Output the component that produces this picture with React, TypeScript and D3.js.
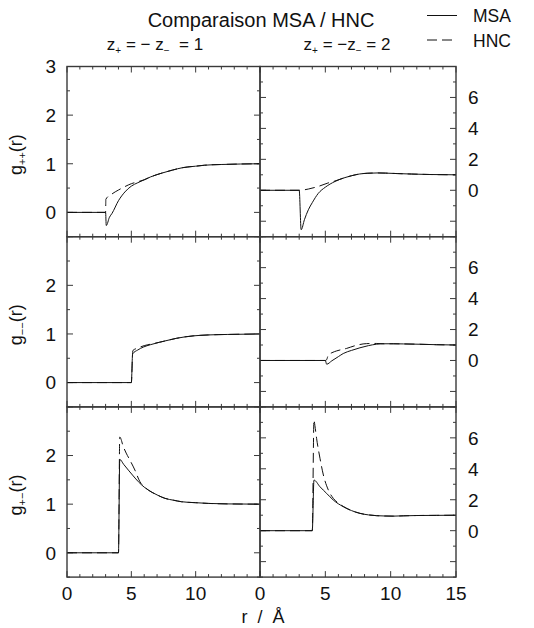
import React from 'react';
import * as d3 from 'd3';

type Pt = [number, number];

// ---- data: g(r) curves ----
// column 1 : z+ = -z- = 1 ; column 2 : z+ = -z- = 2
const msaPP1: Pt[] = [[0,0],[3,0],[3.05,-0.27],[3.3,-0.1],[3.5,-0.02],[4,0.24],[4.5,0.42],[5,0.54],[5.5,0.61],[6,0.67],[6.5,0.73],[7.4,0.81],[8.2,0.87],[9,0.92],[10,0.95],[10.7,0.97],[12,0.985],[13.5,0.995],[15,1.0]];
const hncPP1: Pt[] = [[0,0],[3,0],[3.02,0.27],[3.5,0.38],[4,0.46],[4.5,0.53],[5,0.59],[5.5,0.63],[6,0.67],[6.5,0.73],[7.4,0.81],[8.2,0.87],[9,0.92],[10,0.95],[10.7,0.97],[12,0.985],[13.5,0.995],[15,1.0]];

const msaPP2: Pt[] = [[0,0],[3,0],[3.15,-2.55],[3.4,-1.9],[3.7,-1.26],[4,-0.8],[4.46,-0.2],[5,0.2],[5.74,0.57],[6.5,0.82],[7,0.94],[7.6,1.05],[8.2,1.1],[9,1.12],[9.6,1.11],[10.5,1.08],[11.6,1.05],[13,1.02],[15,1.0]];
const hncPP2: Pt[] = [[0,0],[3,0],[3.7,0.08],[4.46,0.25],[5.2,0.47],[5.74,0.6],[6.5,0.82],[7,0.94],[7.6,1.05],[8.2,1.1],[9,1.12],[9.6,1.11],[10.5,1.08],[11.6,1.05],[13,1.02],[15,1.0]];

const msaMM1: Pt[] = [[0,0],[5,0],[5.1,0.59],[5.5,0.67],[5.93,0.73],[6.5,0.78],[7.2,0.83],[8,0.88],[8.5,0.91],[9.8,0.96],[11,0.98],[12.5,0.99],[15,1.0]];
const hncMM1: Pt[] = [[0,0],[5,0],[5.12,0.66],[5.5,0.71],[6,0.76],[6.5,0.79],[7.2,0.83],[8,0.88],[8.5,0.91],[9.8,0.96],[11,0.98],[12.5,0.99],[15,1.0]];

const msaMM2: Pt[] = [[0,0],[5,0],[5.1,-0.24],[5.5,-0.02],[6,0.25],[6.37,0.45],[7,0.65],[7.65,0.82],[8.3,0.96],[8.9,1.05],[9.5,1.08],[10.2,1.08],[11,1.07],[12.2,1.05],[13.5,1.02],[15,1.0]];
const hncMM2: Pt[] = [[0,0],[5,0],[5.1,0.05],[5.23,0.36],[5.5,0.5],[5.87,0.62],[6.63,0.78],[7.29,0.96],[8.16,1.09],[8.9,1.1],[9.5,1.08],[10.2,1.08],[11,1.07],[12.2,1.05],[13.5,1.02],[15,1.0]];

const msaPM1: Pt[] = [[0,0],[4,0],[4.1,1.92],[4.4,1.82],[4.77,1.7],[5.15,1.58],[5.55,1.46],[6,1.35],[6.32,1.29],[7,1.19],[7.61,1.12],[8.3,1.08],[8.9,1.05],[10,1.03],[11,1.015],[12.5,1.005],[15,1.0]];
const hncPM1: Pt[] = [[0,0],[4,0],[4.1,2.38],[4.38,2.18],[4.6,2.05],[4.9,1.9],[5.28,1.7],[5.67,1.46],[6,1.36],[6.32,1.29],[7,1.19],[7.61,1.12],[8.3,1.08],[8.9,1.05],[10,1.03],[11,1.015],[12.5,1.005],[15,1.0]];

const msaPM2: Pt[] = [[0,0],[4,0],[4.13,3.27],[4.59,2.84],[5.1,2.41],[5.61,1.98],[6.37,1.55],[7,1.3],[7.65,1.12],[8.3,1.02],[8.93,0.97],[9.5,0.95],[10.2,0.94],[11,0.96],[12,0.98],[13.5,0.99],[15,1.0]];
const hncPM2: Pt[] = [[0,0],[4,0],[4.13,7.16],[4.2,6.8],[4.33,5.97],[4.59,4.68],[4.85,3.6],[5.23,2.63],[5.61,2.09],[6,1.78],[6.37,1.57],[7,1.3],[7.65,1.12],[8.3,1.02],[8.93,0.97],[9.5,0.95],[10.2,0.94],[11,0.96],[12,0.98],[13.5,0.99],[15,1.0]];

// tick labels
const xTickLabelsLeft = [0, 5, 10];
const xTickLabelsRight = [0, 5, 10, 15];
const yTickLabelsLeftTop = [0, 1, 2, 3];
const yTickLabelsLeft = [0, 1, 2];
const yTickLabelsRight = [0, 2, 4, 6];
const rowLabels = ['++', '−−', '+−'];
const legendNames = ['MSA', 'HNC'];

// ---- layout ----
const W = 534, H = 628;
const colX: [number, number][] = [[67, 260], [260, 456]];
const rowTop = 66.5, rowH = 170.2;
const FONT = "'Liberation Sans', Arial, Helvetica, sans-serif";
const INK = '#111';
const FRAME = '#3a3a3a';

const panels = [
  { row: 0, col: 0, msa: msaPP1, hnc: hncPP1 },
  { row: 0, col: 1, msa: msaPP2, hnc: hncPP2 },
  { row: 1, col: 0, msa: msaMM1, hnc: hncMM1 },
  { row: 1, col: 1, msa: msaMM2, hnc: hncMM2 },
  { row: 2, col: 0, msa: msaPM1, hnc: hncPM1 },
  { row: 2, col: 1, msa: msaPM2, hnc: hncPM2 },
];

function Panel({ row, col, msa, hnc }: { row: number; col: number; msa: Pt[]; hnc: Pt[] }) {
  const [x0, x1] = colX[col];
  const y0 = rowTop + row * rowH;
  const y1 = y0 + rowH;
  const x = d3.scaleLinear().domain([0, 15]).range([x0, x1]);
  const y = d3.scaleLinear().domain(col === 0 ? [-0.5, 3] : [-3, 8]).range([y1, y0]);
  const line = d3.line<Pt>().x(d => x(d[0])).y(d => y(d[1])).curve(d3.curveMonotoneX);
  const xt = d3.range(0, 16, 1);
  const yt = col === 0 ? d3.range(-0.5, 3.01, 0.5) : d3.range(-3, 8.01, 1);
  const isMajorY = (v: number) => (col === 0 ? Math.abs(v - Math.round(v)) < 1e-6 : Math.round(v) % 2 === 0);
  const MAJ = 6, MIN = 3;
  const ticks: JSX.Element[] = [];
  xt.forEach((v, i) => {
    const L = v % 5 === 0 ? MAJ : MIN;
    const px = x(v);
    ticks.push(<line key={'xb' + i} x1={px} x2={px} y1={y1} y2={y1 - L} />);
    ticks.push(<line key={'xt' + i} x1={px} x2={px} y1={y0} y2={y0 + L} />);
  });
  yt.forEach((v, i) => {
    const L = isMajorY(v) ? MAJ : MIN;
    const py = y(v);
    ticks.push(<line key={'yl' + i} x1={x0} x2={x0 + L} y1={py} y2={py} />);
    ticks.push(<line key={'yr' + i} x1={x1} x2={x1 - L} y1={py} y2={py} />);
  });
  return (
    <g>
      <g stroke={FRAME} strokeWidth={1}>{ticks}</g>
      <path d={line(msa) || ''} fill="none" stroke={INK} strokeWidth={1} />
      <path d={line(hnc) || ''} fill="none" stroke={INK} strokeWidth={1} strokeDasharray="10,5" />
      <rect x={x0} y={y0} width={x1 - x0} height={y1 - y0} fill="none" stroke={FRAME} strokeWidth={1.4} />
      {col === 0 &&
        (row === 0 ? yTickLabelsLeftTop : yTickLabelsLeft).map(v => (
          <text key={'yl' + v} x={56} y={y(v)} dy="0.36em" textAnchor="end" fontSize={19} fill={INK}>{v}</text>
        ))}
      {col === 1 &&
        yTickLabelsRight.map(v => (
          <text key={'yr' + v} x={468} y={y(v)} dy="0.36em" textAnchor="start" fontSize={19} fill={INK}>{v}</text>
        ))}
      {row === 2 &&
        (col === 0 ? xTickLabelsLeft : xTickLabelsRight).map(v => (
          <text key={'xl' + v} x={x(v)} y={600} textAnchor="middle" fontSize={19} fill={INK}>{v}</text>
        ))}
      {col === 0 && (
        <text transform={`translate(22,${(y0 + y1) / 2 + 3}) rotate(-90)`} textAnchor="middle" fontSize={18} fill={INK}>
          g<tspan dy={4} fontSize={11}>{rowLabels[row]}</tspan><tspan dy={-4}>(r)</tspan>
        </text>
      )}
    </g>
  );
}

export default function App() {
  return (
    <svg width={W} height={H} style={{ position: 'absolute', left: 0, top: 0, background: '#fff' }} fontFamily={FONT}>
      <rect x={0} y={0} width={W} height={H} fill="#fff" />
      <text x={261} y={27} textAnchor="middle" fontSize={20} fill={INK}>Comparaison MSA / HNC</text>
      <text x={155} y={50} textAnchor="middle" fontSize={17} fill={INK} style={{ whiteSpace: 'pre' }}>
        z<tspan dy={4} fontSize={10}>+</tspan><tspan dy={-4}>{' = − z'}</tspan><tspan dy={4} fontSize={10}>−</tspan><tspan dy={-4}>{'  = 1'}</tspan>
      </text>
      <text x={347} y={50} textAnchor="middle" fontSize={17} fill={INK} style={{ whiteSpace: 'pre' }}>
        z<tspan dy={4} fontSize={10}>+</tspan><tspan dy={-4}>{' = −z'}</tspan><tspan dy={4} fontSize={10}>−</tspan><tspan dy={-4}>{' = 2'}</tspan>
      </text>
      {/* legend */}
      <line x1={427} x2={457} y1={15.5} y2={15.5} stroke={INK} strokeWidth={1} />
      <text x={473} y={22} fontSize={17.5} fill={INK}>{legendNames[0]}</text>
      <line x1={427} x2={457} y1={40} y2={40} stroke={INK} strokeWidth={1} strokeDasharray="10,5" />
      <text x={473} y={47} fontSize={17.5} fill={INK}>{legendNames[1]}</text>
      {panels.map((p, i) => (
        <Panel key={i} {...p} />
      ))}
      <text x={263} y={623} textAnchor="middle" fontSize={18} fill={INK} style={{ whiteSpace: 'pre' }}>{'r  /  Å'}</text>
    </svg>
  );
}
